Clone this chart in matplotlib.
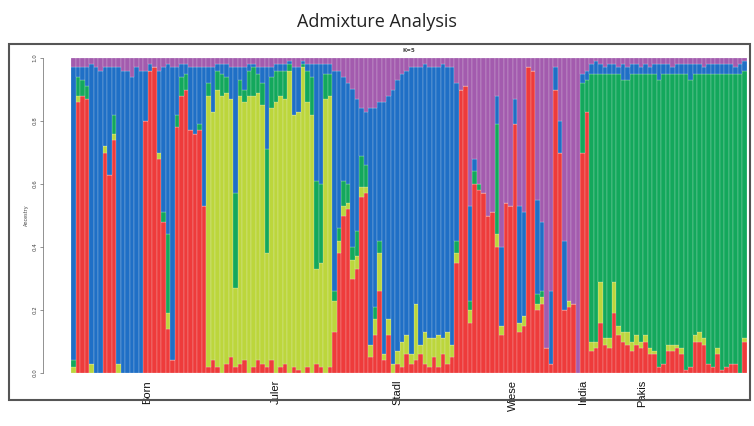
import numpy as np
import matplotlib
matplotlib.use("Agg")
import matplotlib.pyplot as plt
from matplotlib.patches import Rectangle

# ancestry proportions per individual, K=5 (bottom to top: red, lime, green, blue, purple)
red = [0.00, 0.86, 0.88, 0.87, 0.00, 0.00, 0.00, 0.70, 0.63, 0.74, 0.00, 0.00, 0.00, 0.00, 0.00,
       0.00, 0.80, 0.96, 0.97, 0.68, 0.48, 0.14, 0.04, 0.78, 0.88, 0.90, 0.77, 0.76, 0.77, 0.53,
       0.02, 0.04, 0.02, 0.00, 0.03, 0.05, 0.02, 0.03, 0.04, 0.00, 0.02, 0.04, 0.03, 0.02,
       0.04, 0.00, 0.02, 0.03, 0.00, 0.02, 0.01, 0.00, 0.02, 0.00, 0.03, 0.02, 0.00, 0.02,
       0.13, 0.38, 0.50, 0.52, 0.30, 0.33, 0.56, 0.57, 0.05, 0.12, 0.26, 0.04, 0.12, 0.00,
       0.03, 0.02, 0.06, 0.03, 0.04, 0.06, 0.03, 0.02, 0.05, 0.02, 0.06, 0.03, 0.05,
       0.35, 0.90, 0.91, 0.16, 0.60, 0.58, 0.57, 0.50, 0.51, 0.40, 0.12, 0.54, 0.53, 0.79,
       0.13, 0.15, 0.97, 0.96, 0.20, 0.22, 0.08, 0.03, 0.90, 0.70, 0.20, 0.21, 0.22,
       0.00, 0.70, 0.83,
       0.07, 0.08, 0.16, 0.09, 0.08, 0.19, 0.12, 0.10, 0.09, 0.07, 0.09, 0.08, 0.10, 0.06,
       0.06, 0.02, 0.03, 0.07, 0.07, 0.08, 0.06, 0.01, 0.02, 0.10, 0.10, 0.09, 0.03, 0.02,
       0.06, 0.01, 0.02, 0.03, 0.03, 0.00, 0.10]
lime = [0.02, 0.02, 0.00, 0.00, 0.03, 0.00, 0.00, 0.02, 0.00, 0.02, 0.03, 0.00, 0.00, 0.00, 0.00,
        0.00, 0.00, 0.00, 0.00, 0.02, 0.00, 0.05, 0.00, 0.00, 0.00, 0.00, 0.00, 0.00, 0.00, 0.00,
        0.86, 0.79, 0.88, 0.88, 0.86, 0.82, 0.25, 0.85, 0.82, 0.88, 0.86, 0.85, 0.82, 0.36,
        0.80, 0.86, 0.86, 0.84, 0.96, 0.80, 0.82, 0.97, 0.84, 0.82, 0.30, 0.33, 0.87, 0.86,
        0.10, 0.04, 0.03, 0.02, 0.06, 0.04, 0.03, 0.02, 0.04, 0.05, 0.12, 0.02, 0.05, 0.03,
        0.04, 0.08, 0.06, 0.03, 0.18, 0.03, 0.10, 0.09, 0.06, 0.10, 0.05, 0.10, 0.04,
        0.03, 0.00, 0.00, 0.04, 0.00, 0.00, 0.00, 0.00, 0.00, 0.04, 0.03, 0.00, 0.00, 0.00,
        0.03, 0.03, 0.00, 0.00, 0.02, 0.02, 0.00, 0.00, 0.00, 0.00, 0.00, 0.02, 0.00,
        0.00, 0.00, 0.00,
        0.03, 0.02, 0.13, 0.02, 0.03, 0.10, 0.03, 0.03, 0.04, 0.03, 0.03, 0.02, 0.02, 0.02,
        0.01, 0.00, 0.00, 0.02, 0.02, 0.01, 0.02, 0.00, 0.00, 0.02, 0.03, 0.02, 0.00, 0.00,
        0.02, 0.00, 0.00, 0.00, 0.00, 0.00, 0.01]
green = [0.02, 0.06, 0.05, 0.04, 0.00, 0.00, 0.00, 0.00, 0.00, 0.06, 0.00, 0.00, 0.00, 0.00, 0.00,
         0.00, 0.00, 0.00, 0.00, 0.00, 0.03, 0.25, 0.00, 0.04, 0.06, 0.05, 0.00, 0.00, 0.02, 0.00,
         0.04, 0.00, 0.06, 0.07, 0.05, 0.00, 0.30, 0.05, 0.04, 0.08, 0.09, 0.06, 0.07, 0.33,
         0.10, 0.10, 0.08, 0.09, 0.02, 0.00, 0.00, 0.01, 0.10, 0.12, 0.28, 0.25, 0.08, 0.07,
         0.03, 0.04, 0.08, 0.06, 0.04, 0.08, 0.10, 0.07, 0.00, 0.04, 0.04, 0.00, 0.00, 0.00,
         0.00, 0.00, 0.00, 0.00, 0.00, 0.00, 0.00, 0.00, 0.00, 0.00, 0.00, 0.00, 0.00,
         0.04, 0.00, 0.00, 0.03, 0.04, 0.02, 0.00, 0.00, 0.00, 0.35, 0.00, 0.00, 0.00, 0.00,
         0.00, 0.00, 0.00, 0.00, 0.03, 0.02, 0.00, 0.00, 0.00, 0.00, 0.00, 0.00, 0.00,
         0.00, 0.22, 0.10,
         0.85, 0.85, 0.66, 0.84, 0.84, 0.66, 0.80, 0.80, 0.80, 0.85, 0.83, 0.85, 0.83, 0.87,
         0.88, 0.91, 0.92, 0.86, 0.86, 0.86, 0.87, 0.94, 0.91, 0.83, 0.82, 0.84, 0.92, 0.93,
         0.87, 0.94, 0.93, 0.92, 0.92, 0.95, 0.85]
blue = [0.93, 0.03, 0.04, 0.06, 0.95, 0.97, 0.96, 0.25, 0.34, 0.15, 0.94, 0.96, 0.96, 0.94, 0.97,
        0.96, 0.16, 0.02, 0.00, 0.26, 0.46, 0.54, 0.93, 0.15, 0.04, 0.03, 0.20, 0.21, 0.18, 0.44,
        0.05, 0.14, 0.02, 0.03, 0.04, 0.10, 0.40, 0.04, 0.07, 0.02, 0.01, 0.02, 0.05, 0.26,
        0.03, 0.02, 0.02, 0.02, 0.01, 0.15, 0.14, 0.01, 0.02, 0.04, 0.37, 0.38, 0.03, 0.03,
        0.70, 0.50, 0.33, 0.32, 0.50, 0.42, 0.15, 0.17, 0.75, 0.63, 0.44, 0.80, 0.71, 0.87,
        0.86, 0.85, 0.84, 0.91, 0.75, 0.88, 0.85, 0.86, 0.86, 0.85, 0.87, 0.84, 0.88,
        0.50, 0.00, 0.00, 0.30, 0.04, 0.00, 0.00, 0.00, 0.00, 0.09, 0.25, 0.00, 0.00, 0.08,
        0.37, 0.33, 0.00, 0.00, 0.30, 0.22, 0.00, 0.23, 0.07, 0.10, 0.22, 0.00, 0.00,
        0.00, 0.03, 0.03,
        0.03, 0.04, 0.03, 0.02, 0.03, 0.03, 0.02, 0.05, 0.04, 0.03, 0.03, 0.02, 0.03, 0.02,
        0.03, 0.05, 0.03, 0.03, 0.02, 0.03, 0.03, 0.03, 0.05, 0.03, 0.03, 0.02, 0.03, 0.03,
        0.03, 0.03, 0.03, 0.03, 0.02, 0.03, 0.03]
purple = [0.03, 0.03, 0.03, 0.03, 0.02, 0.03, 0.04, 0.03, 0.03, 0.03, 0.03, 0.04, 0.04, 0.06, 0.03,
          0.04, 0.04, 0.02, 0.03, 0.04, 0.03, 0.02, 0.03, 0.03, 0.02, 0.02, 0.03, 0.03, 0.03, 0.03,
          0.03, 0.03, 0.02, 0.02, 0.02, 0.03, 0.03, 0.03, 0.03, 0.02, 0.02, 0.03, 0.03, 0.03,
          0.03, 0.02, 0.02, 0.02, 0.01, 0.03, 0.03, 0.01, 0.02, 0.02, 0.02, 0.02, 0.02, 0.02,
          0.04, 0.04, 0.06, 0.08, 0.10, 0.13, 0.16, 0.17, 0.16, 0.16, 0.14, 0.14, 0.12, 0.10,
          0.07, 0.05, 0.04, 0.03, 0.03, 0.03, 0.02, 0.03, 0.03, 0.03, 0.02, 0.03, 0.03,
          0.08, 0.10, 0.09, 0.47, 0.32, 0.40, 0.43, 0.50, 0.49, 0.12, 0.60, 0.46, 0.47, 0.13,
          0.47, 0.49, 0.03, 0.04, 0.45, 0.52, 0.92, 0.74, 0.03, 0.20, 0.58, 0.77, 0.78,
          1.00, 0.05, 0.04,
          0.02, 0.01, 0.02, 0.03, 0.02, 0.02, 0.03, 0.02, 0.03, 0.02, 0.02, 0.03, 0.02, 0.03,
          0.02, 0.02, 0.02, 0.02, 0.03, 0.02, 0.02, 0.02, 0.02, 0.02, 0.02, 0.03, 0.02, 0.02,
          0.02, 0.02, 0.02, 0.02, 0.03, 0.02, 0.01]

pops = ["Born", "Juler", "Stadl", "Wiese", "India", "Pakis"]
pop_label_pos = [16.3, 45, 72, 97.5, 113, 126.3]
colors = ["#EE3B3B", "#BCD63C", "#13A85C", "#1F6FC6", "#A35BAE"]

Q = np.array([red, lime, green, blue, purple])
Q = Q / Q.sum(axis=0)
x = np.arange(Q.shape[1])

fig = plt.figure(figsize=(7.54, 4.26), dpi=100)
ax = fig.add_axes([71/754, 53/426, 676/754, 315/426])

bottom = np.zeros(Q.shape[1])
for row, c in zip(Q, colors):
    ax.bar(x, row, bottom=bottom, width=1.0, color=c, edgecolor="#f4f4f4", linewidth=0.15)
    bottom += row

ax.set_xlim(-0.5, len(x) - 0.5)
ax.set_ylim(0, 1)

for s in ["top", "right", "bottom"]:
    ax.spines[s].set_visible(False)
ax.spines["left"].set_position(("outward", 20))
ax.spines["left"].set_bounds(0, 1)
ax.spines["left"].set_linewidth(0.5)
ax.spines["left"].set_color("#666666")

ax.set_yticks([0, 0.2, 0.4, 0.6, 0.8, 1.0])
ax.set_yticklabels(["0.0", "0.2", "0.4", "0.6", "0.8", "1.0"], rotation=90, va="center")
ax.tick_params(axis="y", labelsize=4, length=2, width=0.5, color="#666666", labelcolor="#444444", pad=2)
ax.set_ylabel("Ancestry", fontsize=3.5, color="#444444", labelpad=3)

ax.set_xticks(pop_label_pos)
ax.set_xticklabels(pops, rotation=90, fontsize=8, family="Liberation Sans", color="#111111")
ax.tick_params(axis="x", length=0, pad=5)

ax.set_title("K=5", fontsize=4, fontweight="bold", color="#444444", pad=4)

# grey frame around the plot, title sits above it
fig.patches.append(Rectangle((9/754, 26/426), 741/754, 356/426, transform=fig.transFigure,
                             fill=False, edgecolor="#555555", linewidth=1.5))
fig.text(0.5, 1 - 22/426, "Admixture Analysis", ha="center", va="center",
         fontsize=13, family="Open Sans", color="#222222")

fig.savefig("out.png", dpi=100)
